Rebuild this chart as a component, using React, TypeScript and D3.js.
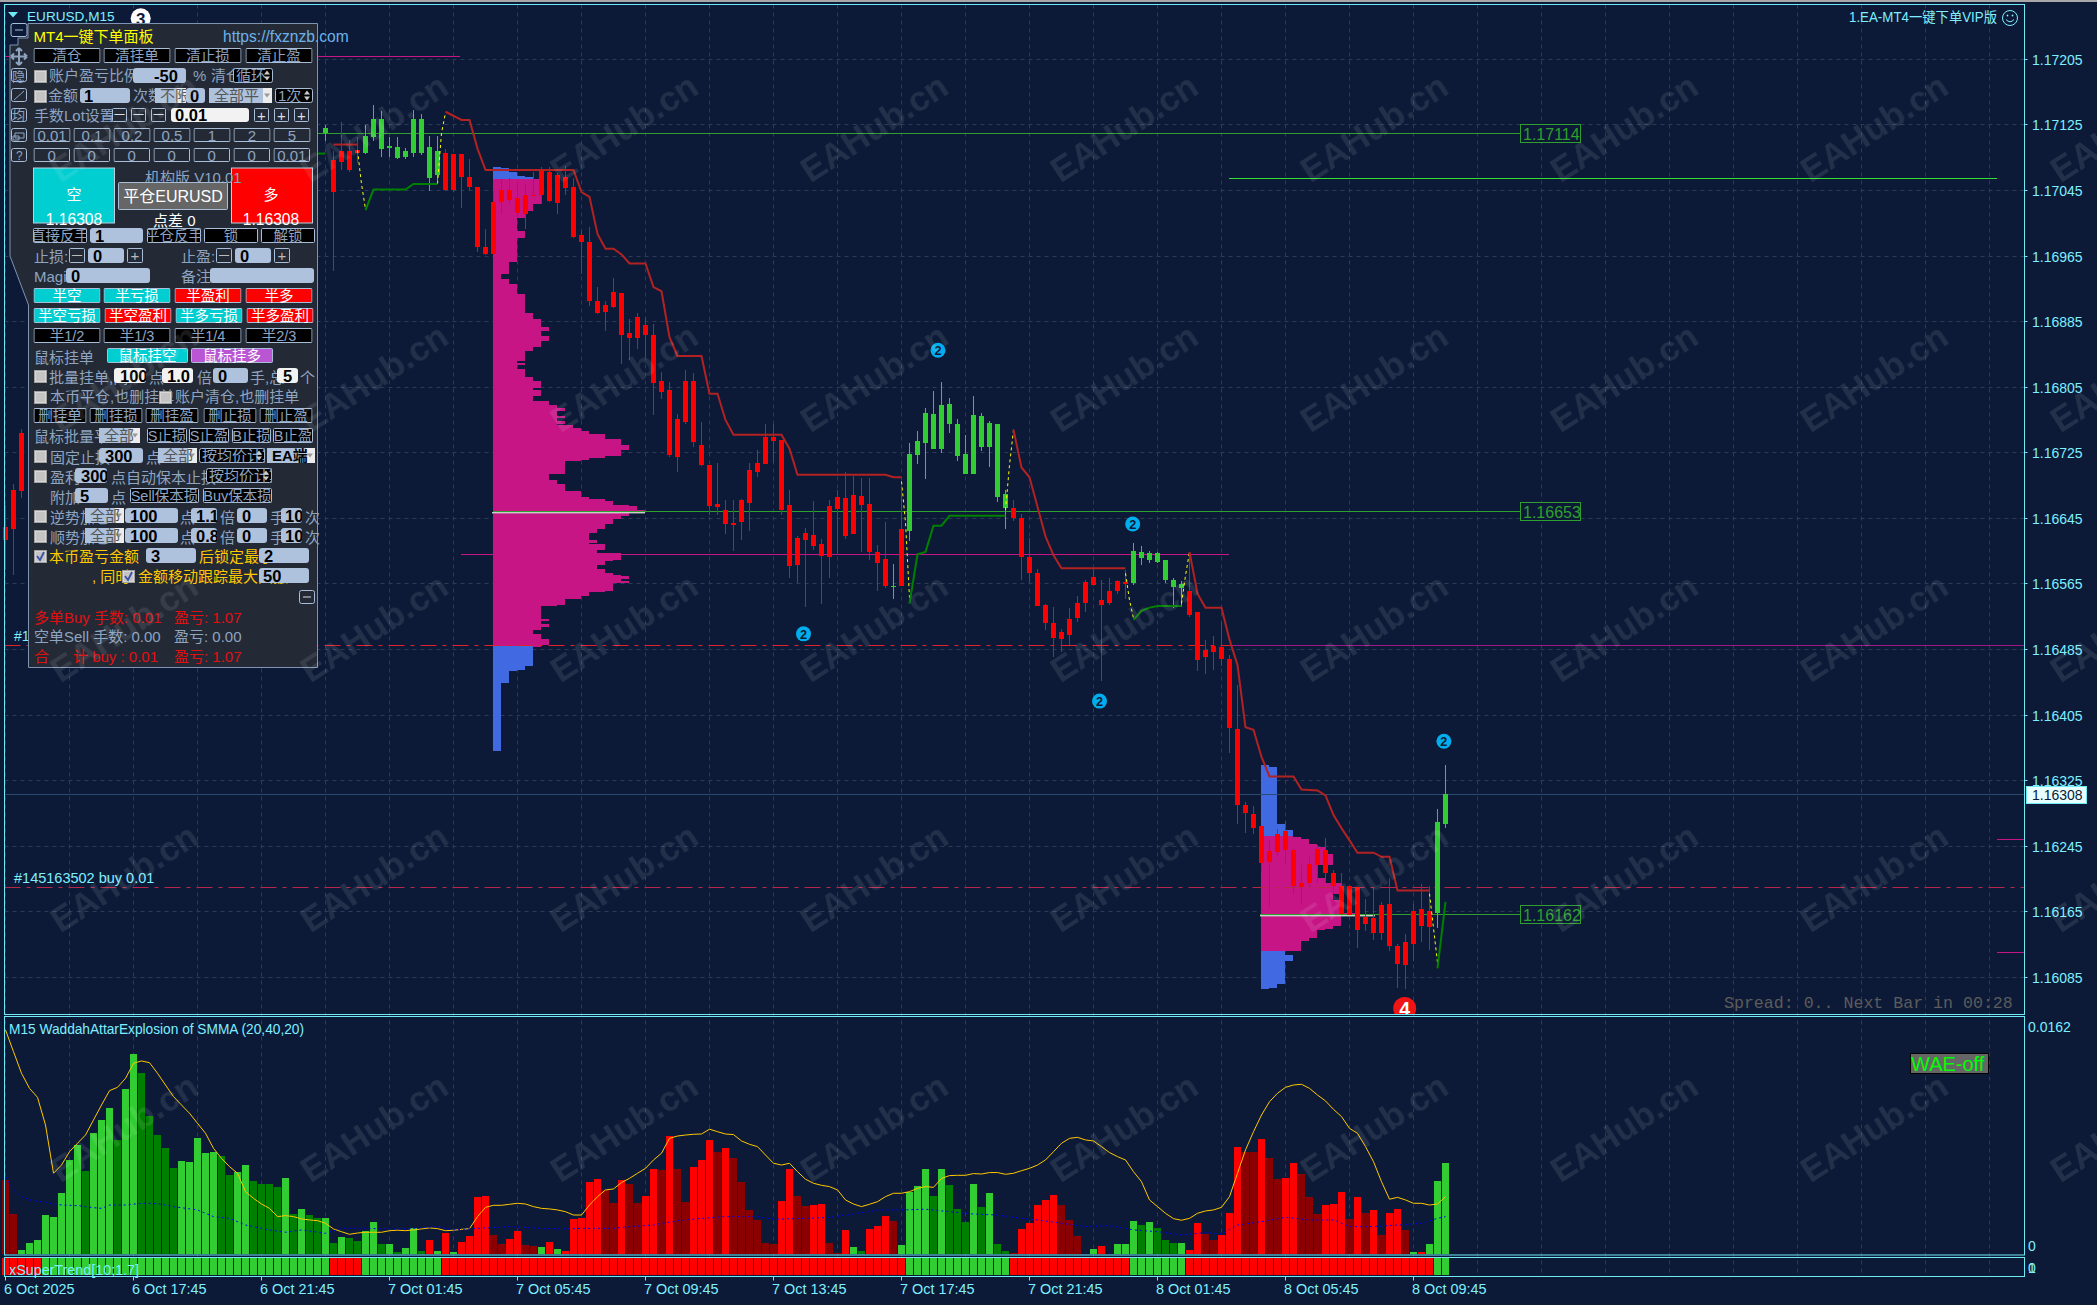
import React from "react";
import * as d3 from "d3";

// ---------- data (prices in points above 1.16000, 181 M15 bars) ----------
const hiddenBars: (number | null)[] = Array(37).fill(null); // bars 3..39 sit behind the trade panel
const opens: (number | null)[] = [634, 680, 749, ...hiddenBars,
  1115, 1082, 1093, 1093, 1094, 1091, 1110, 1096, 1097, 1085, 1086, 1091, 1091, 1060, 1064, 1091, 1090, 1090, 1062, 1049,
  976, 1031, 1045, 1046, 1036, 1040, 1040, 1069, 1067, 1064, 1062, 1049, 991, 982, 910, 905, 921, 920, 871, 890,
  881, 869, 812, 802, 766, 812, 812, 735, 710, 662, 655, 639, 667, 704, 713, 744, 744, 741, 661, 621,
  627, 625, 614, 660, 671, 670, 673, 672, 663, 604, 595, 562, 632, 630, 722, 737, 730, 730, 760, 721,
  699, 699, 732, 732, 671, 658, 658, 645, 598, 578, 539, 517, 506, 522, 542, 567, 573, 545, 556, 569,
  567, 566, 597, 594, 592, 570, 561, 560, 556, 531, 484, 489, 488, 473, 388, 295, 284, 270, 239, 260,
  263, 240, 200, 223, 241, 240, 212, 196, 196, 195, 159, 157, 173, 174, 123, 128, 166, 168, 166, 164, 272];
const closes: (number | null)[] = [619, 632, 678, ...hiddenBars,
  1121, 1043, 1080, 1070, 1091, 1112, 1132, 1132, 1099, 1098, 1093, 1132, 1132, 1098, 1093, 1046, 1045, 1062, 1049, 976,
  967, 967, 1031, 1033, 1018, 1016, 1039, 1039, 1032, 1030, 1048, 988, 982, 910, 896, 897, 903, 869, 865, 865,
  869, 810, 799, 722, 720, 763, 738, 710, 660, 659, 638, 638, 640, 664, 702, 711, 739, 655, 587, 588,
  619, 611, 599, 598, 656, 623, 626, 661, 604, 590, 563, 563, 562, 723, 739, 774, 772, 783, 785, 760,
  723, 771, 770, 761, 760, 675, 645, 598, 578, 538, 517, 499, 498, 503, 523, 542, 564, 539, 542, 556,
  566, 605, 604, 603, 603, 594, 570, 565, 527, 472, 476, 482, 473, 389, 295, 285, 267, 224, 226, 238,
  240, 197, 195, 200, 222, 212, 197, 162, 161, 143, 150, 139, 139, 123, 101, 100, 126, 148, 146, 274, 309];
const highs: (number | null)[] = [661, 687, 754, ...hiddenBars,
  1125, 1093, 1128, 1107, 1110, 1125, 1149, 1142, 1110, 1110, 1097, 1143, 1138, 1112, 1112, 1096, 1090, 1090, 1083, 1049,
  998, 1046, 1059, 1060, 1055, 1053, 1068, 1073, 1073, 1066, 1075, 1060, 996, 1001, 927, 910, 938, 920, 888, 896,
  891, 882, 823, 811, 772, 826, 822, 762, 710, 713, 667, 667, 669, 713, 728, 760, 760, 741, 680, 623,
  633, 666, 620, 667, 680, 702, 697, 694, 694, 612, 640, 589, 680, 737, 751, 780, 800, 811, 792, 766,
  747, 794, 773, 764, 760, 680, 667, 650, 621, 583, 541, 537, 510, 536, 550, 570, 583, 570, 572, 570,
  582, 615, 611, 605, 604, 594, 572, 568, 604, 531, 496, 501, 518, 478, 442, 299, 294, 270, 252, 266,
  276, 244, 222, 232, 246, 255, 216, 212, 196, 195, 181, 195, 177, 206, 126, 138, 174, 199, 196, 290, 344];
const lows: (number | null)[] = [582, 576, 670, ...hiddenBars,
  1105, 947, 1070, 1067, 1079, 1090, 1105, 1086, 1086, 1083, 1083, 1086, 1088, 1044, 1057, 1044, 1043, 1024, 1046, 970,
  966, 966, 1016, 1028, 1012, 998, 1039, 1029, 1031, 1016, 1040, 987, 943, 904, 894, 873, 902, 833, 838, 851,
  842, 771, 791, 720, 702, 760, 732, 709, 649, 649, 626, 605, 619, 630, 695, 711, 713, 649, 572, 566,
  537, 606, 540, 572, 600, 620, 626, 604, 594, 556, 560, 547, 562, 617, 711, 693, 729, 725, 749, 715,
  699, 699, 727, 707, 665, 632, 642, 570, 566, 538, 509, 476, 482, 490, 519, 531, 562, 446, 539, 553,
  546, 564, 588, 590, 590, 566, 536, 537, 525, 459, 455, 460, 465, 359, 272, 261, 260, 212, 171, 233,
  222, 187, 175, 195, 200, 200, 187, 161, 161, 121, 142, 130, 130, 117, 72, 71, 105, 128, 118, 145, 267];

// SuperTrend pieces: [bar, points]
const trendDown: [number, number][][] = [
  [[41, 1101], [44, 1101]],
  [[55, 1141], [57, 1131], [58, 1131], [59, 1096], [60, 1070], [71, 1070], [72, 1043], [73, 1037], [74, 992], [75, 974], [76, 974], [77, 967], [78, 956], [80, 956], [81, 927], [82, 922], [83, 866], [84, 843], [87, 843], [88, 797], [89, 797], [90, 765], [91, 747], [97, 747], [98, 730], [99, 698], [110, 698], [111, 695], [112, 695]],
  [[126, 753], [127, 707], [128, 695], [129, 659], [130, 623], [131, 600], [132, 584], [140, 584]],
  [[148, 604], [149, 553], [150, 536], [152, 536], [153, 497], [154, 466], [155, 390], [156, 387], [157, 354], [158, 330], [161, 330], [162, 314], [164, 313], [165, 307], [166, 283], [167, 267], [168, 252], [169, 237], [171, 237], [172, 232], [173, 232], [174, 191], [178, 191]],
];
const trendUp: [number, number][][] = [
  [[39, 1090], [40, 1090]],
  [[45, 1021], [46, 1046], [50, 1046], [51, 1053], [54, 1053]],
  [[113, 541], [114, 601], [115, 604], [116, 636], [117, 636], [118, 648], [125, 648]],
  [[141, 521], [142, 532], [143, 536], [144, 538], [147, 538]],
  [[179, 96], [180, 177]],
];
const trendFlips: [number, number][][] = [
  [[44, 1094], [44.5, 1053], [45, 1022]], [[54, 1053], [54.5, 1115], [55, 1140]],
  [[112, 690], [112.5, 640], [113, 548]], [[125, 655], [125.5, 710], [126, 753]],
  [[140, 578], [140.5, 545], [141, 523]], [[147, 541], [147.5, 575], [148, 604]],
  [[178, 187], [178.5, 145], [179, 103]],
];

// Horizontal levels, in points
const supportLevels = [1114, 653, 162];
const supportLabels = ["1.17114", "1.16653", "1.16162"];
const supportStart = [318, 493, 1260];
const longGreenLevel = 1059;
const magentaLevels = [601, 490];
const orderLevels = [490, 195];
const stubLevels = [253, 115];
const topMagentaLevel = 1208;
const currentPrice = 308;

// Volume profiles: band top (points) and count
const vp1Prices = [1074, 1072, 1068, 1063, 1061, 1059, 1029, 1021, 1012, 995, 987, 958, 943, 937, 931, 919, 895, 888, 879, 874, 867, 862, 855, 849, 838, 834, 832, 827, 818, 812, 805, 801, 795, 788, 783, 779, 776, 770, 768, 764, 761, 759, 755, 751, 748, 742, 735, 729, 721, 719, 717, 715, 699, 692, 687, 678, 671, 669, 666, 661, 660, 655, 652, 648, 645, 639, 632, 627, 618, 615, 614, 607, 603, 595, 593, 588, 583, 578, 576, 574, 571, 568, 566, 557, 555, 551, 547, 540, 539, 522, 520, 516, 513, 509, 504, 498, 491, 489, 465, 460, 459, 445, 362];
const vp1Counts = [1, 2, 3, 4, 5, 6, 5, 4, 3, 4, 3, 2, 1, 2, 3, 4, 5, 6, 7, 6, 7, 6, 5, 4, 3, 4, 3, 4, 5, 6, 5, 6, 5, 7, 8, 9, 8, 9, 8, 9, 8, 10, 11, 12, 14, 16, 17, 16, 14, 12, 11, 9, 7, 8, 9, 11, 12, 14, 15, 17, 18, 19, 17, 16, 15, 14, 13, 12, 13, 12, 14, 13, 16, 15, 14, 13, 14, 15, 16, 17, 16, 17, 15, 14, 12, 11, 9, 8, 6, 7, 6, 7, 6, 5, 6, 7, 6, 5, 4, 3, 2, 1, 0];
const vp1Value = [1059, 489];
const vp2Prices = [344, 342, 272, 265, 257, 256, 254, 248, 244, 236, 222, 206, 200, 187, 179, 164, 161, 148, 145, 143, 134, 130, 117, 112, 105, 77, 73, 71];
const vp2Counts = [1, 2, 3, 4, 4, 5, 6, 7, 8, 9, 7, 8, 10, 9, 10, 12, 10, 9, 8, 7, 6, 5, 3, 4, 3, 2, 1, 0];
const vp2Value = [257, 117];
const vpBarWidth = 8;

// WAE histogram (units of 0.00001) and trend colour key
const waeValues = [
  513, 278, 30, 80, 99, 271, 258, 423, 651, 754, 575, 840, 927, 1010, 789, 1141, 1382, 1251, 955, 823,
  734, 596, 644, 637, 803, 699, 706, 679, 547, 568, 616, 506, 485, 485, 465, 527, 278, 313, 271, 251,
  251, 78, 120, 113, 92, 161, 223, 71, 71, 16, 44, 182, 23, 99, 23, 147, 16, 85, 127, 396,
  403, 133, 71, 106, 161, 64, 58, 51, 85, 37, 23, 244, 251, 499, 520, 444, 354, 513, 485, 354,
  403, 589, 582, 817, 589, 361, 603, 651, 789, 706, 734, 665, 499, 306, 237, 78, 71, 368, 589, 403,
  334, 340, 347, 78, 7, 168, 51, 23, 175, 196, 265, 230, 64, 430, 472, 589, 403, 589, 478, 313,
  223, 485, 327, 423, 71, 23, 9, 175, 216, 340, 375, 409, 340, 237, 127, 5, 37, 58, 5, 71,
  71, 230, 202, 223, 182, 99, 78, 78, 30, 216, 140, 99, 133, 285, 741, 706, 706, 796, 665, 520,
  527, 630, 554, 396, 278, 340, 347, 430, 244, 396, 285, 306, 133, 285, 313, 168, 16, 16, 71, 506, 630];
const waeKinds = "DDGGGGGGGG" + "gGGGgGGggg" + "ggGGGGGggG" + "GggggGgGgg" + "GgGggGGgGg" + "GGgRGRGRRR" + "RDDRRDDGRG" + "RRRRRDDRDD" + "RRDRDDRRRD" + "RDDDDDDRRD" + "DRRDDRGgRR" + "RDGGGGgGgg" + "gGgGggDRRR" + "RRDDDDGRGG" + "GGgGgggGRR" + "DDRRRDDRDD" + "RRDDDRRRDR" + "DRDRRDGRGGG";
const waeExplosion = [
  1548, 1398, 1249, 1145, 1083, 892, 559, 616, 708, 766, 823, 927, 1030, 1129, 1152, 1214, 1318, 1334, 1322, 1249,
  1168, 1088, 1030, 973, 904, 835, 731, 662, 605, 559, 432, 386, 347, 317, 260, 267, 260, 244, 237, 232,
  214, 175, 156, 138, 147, 152, 152, 152, 163, 166, 163, 168, 175, 182, 177, 163, 166, 172, 177, 260,
  324, 338, 338, 345, 352, 347, 329, 317, 313, 306, 294, 271, 271, 340, 398, 444, 451, 495, 524, 559,
  593, 651, 697, 800, 816, 823, 828, 830, 863, 846, 830, 826, 782, 759, 743, 685, 628, 616, 628, 570,
  518, 490, 476, 467, 444, 375, 347, 329, 345, 363, 398, 421, 421, 432, 455, 467, 462, 524, 543, 545,
  545, 557, 554, 564, 564, 552, 559, 577, 593, 616, 651, 708, 766, 800, 807, 789, 782, 743, 702, 674,
  651, 570, 501, 375, 329, 283, 246, 235, 248, 283, 299, 306, 324, 398, 559, 720, 846, 961, 1053, 1111,
  1152, 1168, 1173, 1145, 1099, 1058, 1000, 950, 869, 835, 743, 639, 501, 380, 393, 375, 352, 352, 340, 347, 398];
const waeDeadZone: [number, number][] = [[0, 535], [1, 443], [2, 398], [3, 375], [5, 359], [7, 340], [9, 336], [11, 322], [12, 317], [13, 340], [15, 340], [17, 352], [19, 350], [21, 329], [24, 306], [26, 260], [28, 248], [30, 202], [33, 168], [35, 152], [37, 168], [40, 145], [42, 179], [45, 179], [48, 175], [50, 175], [54, 191], [56, 168], [59, 179], [63, 191], [67, 179], [70, 175], [72, 179], [76, 179], [78, 191], [81, 202], [84, 232], [87, 248], [90, 260], [94, 260], [96, 242], [100, 248], [103, 255], [106, 278], [109, 306], [112, 306], [115, 311], [118, 294], [121, 278], [124, 271], [127, 248], [129, 237], [132, 214], [135, 191], [138, 198], [141, 168], [144, 156], [147, 133], [150, 150], [152, 140], [154, 202], [157, 225], [160, 255], [163, 237], [166, 237], [168, 191], [171, 191], [174, 202], [177, 214], [179, 248], [180, 260]];

// xSuperTrend strip: [first bar, last bar, up?]
const stripRuns: [number, number, boolean][] = [[0, 4, false], [5, 40, true], [41, 44, false], [45, 54, true], [55, 112, false], [113, 125, true], [126, 140, false], [141, 147, true], [148, 178, false], [179, 180, true]];

const priceTicks = ["1.17205", "1.17125", "1.17045", "1.16965", "1.16885", "1.16805", "1.16725", "1.16645", "1.16565", "1.16485", "1.16405", "1.16325", "1.16245", "1.16165", "1.16085"];
const timeLabels = ["6 Oct 2025", "6 Oct 17:45", "6 Oct 21:45", "7 Oct 01:45", "7 Oct 05:45", "7 Oct 09:45", "7 Oct 13:45", "7 Oct 17:45", "7 Oct 21:45", "8 Oct 01:45", "8 Oct 05:45", "8 Oct 09:45"];
const signalBars = [
  { bar: 116.56, pts: 850, r: 7.5, fill: "#00aeef", color: "#0c1a37", t: "2" },
  { bar: 99.75, pts: 504, r: 7.5, fill: "#00aeef", color: "#0c1a37", t: "2" },
  { bar: 136.75, pts: 422, r: 7.5, fill: "#00aeef", color: "#0c1a37", t: "2" },
  { bar: 140.9, pts: 638, r: 7.5, fill: "#00aeef", color: "#0c1a37", t: "2" },
  { bar: 179.8, pts: 373, r: 7.5, fill: "#00aeef", color: "#0c1a37", t: "2" },
  { bar: 16.9, pts: 1255, r: 10, fill: "#ffffff", color: "#0c1a37", t: "3" },
  { bar: 174.9, pts: 47, r: 11.5, fill: "#f01414", color: "#ffffff", t: "4" },
];

// ---------- scales ----------
const W = 2097, H = 1305;
const FRAME_L = 4.5, FRAME_R = 2024.5, PANE_T = 4.5, PANE_B = 1014.5, WAE_T = 1016.5, WAE_B = 1254.5, STRIP_T = 1257.5, STRIP_B = 1276.5;
const BG = "#0c1a37", CYAN = "#6fe9f5", LABEL = "#7feeff", GRID = "#2b3c59";
const x = d3.scaleLinear().domain([0, 180]).range([5.5, 1445.5]);
const y = d3.scaleLinear().domain([1205, 85]).range([59.3, 977.3]);
const yWae = d3.scaleLinear().domain([0, 1620]).range([1254.3, 1019.5]);
const SANS = "'Liberation Sans', Arial, sans-serif";
const CJK = "'Liberation Sans', 'Noto Sans CJK SC', sans-serif";
const snap = (v: number) => Math.floor(v) + 0.5;

const xLine = d3.line<[number, number]>().x((d) => x(d[0])).y((d) => y(d[1]));
const wLine = d3.line<[number, number]>().x((d) => x(d[0])).y((d) => yWae(d[1]));

// ---------- chart parts ----------
function Grid() {
  const xs = d3.range(0, 32).map((k) => x(k * 8));
  return (
    <g stroke={GRID} strokeWidth={1} strokeDasharray="4,4" fill="none">
      {xs.map((v, k) => <line key={k} x1={v} x2={v} y1={PANE_T} y2={STRIP_B} />)}
      {priceTicks.map((t) => {
        const yy = snap(y(+t.slice(2) - 16000));
        return <line key={t} x1={FRAME_L} x2={FRAME_R} y1={yy} y2={yy} />;
      })}
    </g>
  );
}

function Profile({ prices, counts, value, id }: { prices: number[]; counts: number[]; value: number[]; id: string }) {
  const left = id === "a" ? 493 : 1261;
  return (
    <g shapeRendering="crispEdges">
      {prices.slice(0, -1).map((p, k) => (
        <rect key={k} x={left} y={y(p)} width={counts[k] * vpBarWidth} height={y(prices[k + 1]) - y(p) + 0.4}
          fill={p <= value[0] && p > value[1] ? "#c71585" : "#4169e1"} />
      ))}
    </g>
  );
}

function HLine({ a, b, v, c, d, w = 1 }: { a: number; b: number; v: number; c: string; d?: string; w?: number }) {
  const yy = snap(y(v));
  return <line x1={a} x2={b} y1={yy} y2={yy} stroke={c} strokeDasharray={d} strokeWidth={w} />;
}

function Levels() {
  const greenDim = "#2f9f2f";
  return (
    <g>
      <HLine a={FRAME_L} b={460} v={topMagentaLevel} c="#c71585" />
      <HLine a={461} b={1229} v={magentaLevels[0]} c="#c71585" />
      <HLine a={1231} b={FRAME_R} v={magentaLevels[1]} c="#a0178a" />
      <HLine a={FRAME_L} b={1231} v={orderLevels[0]} c="#e0202a" d="16,6,4,6" />
      <HLine a={FRAME_L} b={FRAME_R} v={orderLevels[1]} c="#b8264a" d="16,6,4,6" />
      <HLine a={FRAME_L} b={FRAME_R} v={currentPrice} c="#2c4a70" />
      {stubLevels.map((l) => <HLine key={l} a={1997} b={FRAME_R} v={l} c="#c71585" />)}
      <rect x={492} y={snap(y(653)) + 0.5} width={153} height={1.4} fill="#c9d2c9" />
      <rect x={1260} y={snap(y(162)) + 0.5} width={115} height={1.4} fill="#c9d2c9" />
      <HLine a={1229} b={1997} v={longGreenLevel} c="#32e032" />
      {supportLevels.map((l, k) => {
        const yy = snap(y(l));
        return (
          <g key={l}>
            <line x1={supportStart[k]} x2={1520} y1={yy} y2={yy} stroke={greenDim} />
            <rect x={1520.5} y={yy - 9} width={60} height={18} fill={BG} stroke={greenDim} />
            <text x={1523} y={yy + 6} fontFamily={SANS} fontSize={16} fill={greenDim}>{supportLabels[k]}</text>
          </g>
        );
      })}
    </g>
  );
}

function Candles() {
  return (
    <g shapeRendering="crispEdges">
      {opens.map((o, i) => {
        const c = closes[i];
        if (o === null || c === null) return null;
        const color = c >= o ? "#32cd32" : "#ff0000";
        const cx = x(i);
        const top = y(Math.max(o, c));
        const bottom = y(Math.min(o, c));
        return (
          <g key={i} fill={color}>
            <rect x={cx - 0.5} width={1} y={y(highs[i]!)} height={y(lows[i]!) - y(highs[i]!)} />
            <rect x={cx - 2.5} width={5} y={top} height={Math.max(1.4, bottom - top)} />
          </g>
        );
      })}
    </g>
  );
}

function Trends() {
  return (
    <g fill="none">
      {trendFlips.map((s, k) => <path key={k} d={xLine(s)!} stroke="#ffff00" strokeWidth={1} strokeDasharray="3,3" />)}
      {trendDown.map((s, k) => <path key={k} d={xLine(s)!} stroke="#b22222" strokeWidth={2} />)}
      {trendUp.map((s, k) => <path key={k} d={xLine(s)!} stroke="#008000" strokeWidth={2} />)}
    </g>
  );
}

function Signals() {
  return (
    <g clipPath="url(#paneClip)">
      {signalBars.map((s, k) => (
        <g key={k}>
          <circle cx={x(s.bar)} cy={y(s.pts)} r={s.r} fill={s.fill} />
          <text x={x(s.bar)} y={y(s.pts) + s.r * 0.62} textAnchor="middle" fontFamily={SANS} fontWeight="bold" fontSize={s.r * 1.7} fill={s.color}>{s.t}</text>
        </g>
      ))}
    </g>
  );
}

const waeColor: Record<string, string> = { R: "#ff0000", D: "#8b0000", G: "#32cd32", g: "#008000" };

function WaePane() {
  const explosion = waeExplosion.map((v, i) => [i, v] as [number, number]);
  return (
    <g>
      <g shapeRendering="crispEdges">
        {waeValues.map((v, i) => (
          <rect key={i} x={x(i) - 3.5} width={7} y={yWae(v)} height={yWae(0) - yWae(v)} fill={waeColor[waeKinds[i]]} />
        ))}
      </g>
      <path d={wLine(explosion)!} fill="none" stroke="#ffc800" strokeWidth={1} />
      <path d={wLine(waeDeadZone)!} fill="none" stroke="#0000ff" strokeWidth={1} strokeDasharray="2,3" />
      <rect x={1910.5} y={1053.5} width={78} height={20} fill="#666" stroke="#000" />
      <text x={1911} y={1071} fontFamily={SANS} fontSize={20} fill="#00ff00">WAE-off</text>
    </g>
  );
}

function Strip() {
  return (
    <g shapeRendering="crispEdges">
      {stripRuns.flatMap(([a, b, up]) => d3.range(a, b + 1).map((i) => (
        <rect key={i} x={x(i) - 3.5} width={7.4} y={1257.7} height={17.6} fill={up ? "#32cd32" : "#ff0000"} />
      )))}
    </g>
  );
}

function Axes() {
  const xTicks = timeLabels.map((_, k) => k * 16);
  return (
    <g>
      {/* frames */}
      <g fill="none" stroke={CYAN}>
        <rect x={FRAME_L} y={PANE_T} width={FRAME_R - FRAME_L} height={PANE_B - PANE_T} />
        <rect x={FRAME_L} y={WAE_T} width={FRAME_R - FRAME_L} height={WAE_B - WAE_T + 0.5} />
        <rect x={FRAME_L} y={STRIP_T} width={FRAME_R - FRAME_L} height={STRIP_B - STRIP_T} />
      </g>
      {priceTicks.map((t) => {
        const yy = y(+t.slice(2) - 16000);
        return (
          <g key={t}>
            <line x1={FRAME_R} x2={FRAME_R + 3} y1={snap(yy)} y2={snap(yy)} stroke={CYAN} />
            <text x={2032} y={yy + 5.5} fontFamily={SANS} fontSize={14} fill={LABEL}>{t}</text>
          </g>
        );
      })}
      <text x={2028} y={1032} fontFamily={SANS} fontSize={14} fill={LABEL}>0.0162</text>
      <text x={2028} y={1251} fontFamily={SANS} fontSize={14} fill={LABEL}>0</text>
      <text x={2028} y={1273} fontFamily={SANS} fontSize={14} fill={LABEL}>0</text>
      <text x={2028} y={1273} fontFamily={SANS} fontSize={14} fill={LABEL}>1</text>
      {xTicks.map((b, k) => (
        <g key={b}>
          <line x1={x(b)} x2={x(b)} y1={STRIP_B} y2={STRIP_B + 4} stroke={CYAN} />
          <text x={x(b) - 1.5} y={1294} fontFamily={SANS} fontSize={14.4} fill={LABEL}>{timeLabels[k]}</text>
        </g>
      ))}
      {/* current price tag */}
      <rect x={2026.5} y={snap(y(currentPrice)) - 8} width={60} height={17} fill="#e8ffff" stroke={CYAN} />
      <text x={2032} y={y(currentPrice) + 5} fontFamily={SANS} fontSize={14} fill="#0c1a37">1.16308</text>
      {/* captions */}
      <path d="M8,12 L18,12 L13,17.5 Z" fill={CYAN} />
      <text x={27} y={21} fontFamily={SANS} fontSize={13.6} fill={LABEL}>EURUSD,M15</text>
      <text x={1849} y={22} fontFamily={CJK} fontSize={14} fill={LABEL} textLength={148} lengthAdjust="spacingAndGlyphs">1.EA-MT4一键下单VIP版</text>
      <g fill="none" stroke={LABEL}>
        <circle cx={2010} cy={18} r={7.5} />
        <path d="M2006,19.5 Q2010,24 2014,19.5" />
      </g>
      <circle cx={2007.5} cy={15.5} r={0.9} fill={LABEL} />
      <circle cx={2012.5} cy={15.5} r={0.9} fill={LABEL} />
      <text x={14} y={641} fontFamily={SANS} fontSize={14} fill={LABEL}>#1</text>
      <text x={14} y={883} fontFamily={SANS} fontSize={14.5} fill={LABEL}>#145163502 buy 0.01</text>
      <text x={9} y={1034} fontFamily={SANS} fontSize={14.5} fill={LABEL} textLength={295} lengthAdjust="spacingAndGlyphs">M15 WaddahAttarExplosion of SMMA (20,40,20)</text>
      <text x={9} y={1275} fontFamily={SANS} fontSize={14.5} fill={LABEL} textLength={130} lengthAdjust="spacingAndGlyphs">xSuperTrend[10;1.7]</text>
      <text x={1724} y={1008} fontFamily="'Liberation Mono', monospace" fontSize={16.6} fill="#5c5c5c">Spread: 0.. Next Bar in 00:28</text>
    </g>
  );
}

function Watermarks() {
  const cx = d3.range(0, 9).map((k) => 124 + 250 * k);
  const cy = d3.range(0, 5).map((k) => 128 + 250 * k);
  return (
    <g fontFamily={SANS} fontWeight="bold" fontSize={35} textAnchor="middle" fill="#ffffff" opacity={0.1}>
      {cy.flatMap((b) => cx.map((a) => (
        <text key={a + "-" + b} transform={`translate(${a},${b}) rotate(-33)`} y={12}>EAHub.cn</text>
      )))}
    </g>
  );
}

// ---------- trade panel ----------
const P_TEXT = "#8fa4c0", P_BORDER = "#a8bdd8", P_BLUE = "#aec2de", TURQ = "#00ced1", P_YEL = "#ffc800";

function Lbl({ x: a, y: b, t, c = P_TEXT, s = 15, w }: { x: number; y: number; t: string; c?: string; s?: number; w?: number }) {
  return <text x={a} y={b} fontFamily={CJK} fontSize={s} fill={c} fontWeight={w}>{t}</text>;
}
function Btn({ a, b, e, f = 15, t, fill = "#000", c = P_TEXT, s = 14.5, stroke = P_BORDER }: { a: number; b: number; e: number; f?: number; t: string; fill?: string; c?: string; s?: number; stroke?: string }) {
  const w = e - a;
  return (
    <svg x={a} y={b} width={w} height={f}>
      <rect x={0.5} y={0.5} width={w - 1} height={f - 1} rx={1} fill={fill} stroke={stroke} />
      <text x={w / 2} y={f / 2 + s * 0.37} textAnchor="middle" fontFamily={CJK} fontSize={s} fill={c}>{t}</text>
    </svg>
  );
}
function Inp({ a, b, e, f = 15, t = "", fill = P_BLUE, tx = 4 }: { a: number; b: number; e: number; f?: number; t?: string; fill?: string; tx?: number }) {
  const w = e - a;
  return (
    <svg x={a} y={b} width={w} height={f}>
      <rect x={0} y={0} width={w} height={f} rx={3} fill={fill} />
      <text x={tx} y={f - 1.5} fontFamily={SANS} fontWeight="bold" fontSize={16.5} fill="#000">{t}</text>
    </svg>
  );
}
function Drop({ a, b, e, t, f = 15 }: { a: number; b: number; e: number; t: string; f?: number }) {
  const w = e - a;
  return (
    <svg x={a} y={b} width={w} height={f}>
      <rect x={0} y={0} width={w} height={f} fill={P_BLUE} />
      <rect x={w - 9} y={0} width={9} height={f} fill="#ececec" />
      <path d={`M${w - 8},${f / 2 - 2} h6 l-3,4 z`} fill="#999" />
      <text x={5} y={f - 2} fontFamily={CJK} fontSize={15} fill="#555">{t}</text>
    </svg>
  );
}
function Spin({ a, b, e, t, f = 15 }: { a: number; b: number; e: number; t: string; f?: number }) {
  const w = e - a;
  return (
    <svg x={a} y={b} width={w} height={f}>
      <rect x={0.5} y={0.5} width={w - 1} height={f - 1} rx={2} fill="#000" stroke={P_BORDER} />
      <text x={3} y={f - 2} fontFamily={CJK} fontSize={15} fill={P_TEXT}>{t}</text>
      <path d={`M${w - 9},${f / 2 - 1} h6 l-3,-4 z M${w - 9},${f / 2 + 1} h6 l-3,4 z`} fill="#ccc" />
    </svg>
  );
}
function Chk({ a, b, on }: { a: number; b: number; on?: boolean }) {
  return (
    <g>
      <rect x={a + 0.5} y={b + 0.5} width={12} height={12} fill="#d8d8d8" stroke="#a0a0a0" />
      <rect x={a + 2} y={b + 2} width={9} height={9} fill="#c4c4c4" />
      {on && <path d={`M${a + 3},${b + 6} l3,4 l4,-8`} fill="none" stroke="#3a52a8" strokeWidth={1.8} />}
    </g>
  );
}

const rowA: [number, number][] = [[33.5, 100.5], [103.5, 170.5], [174.5, 241.5], [245.5, 312.5]];

function Panel() {
  const lots = ["0.01", "0.1", "0.2", "0.5", "1", "2", "5"];
  const zeros = ["0", "0", "0", "0", "0", "0", "0.01"];
  return (
    <g>
      <rect x={11} y={23.5} width={16} height={13} fill="none" stroke={P_BORDER} rx={2} />
      <line x1={15} x2={23} y1={30} y2={30} stroke={P_BORDER} />
      <path d="M28,23.5 H317.5 V667.5 H28.5 V305 L10,256 V45 H18 V38 H28 Z" fill="#232a36" stroke="#7f93b2" />
      {/* left tool column */}
      <g fill="none" stroke={P_TEXT}>
        <path d="M19,48 V65 M11,56.5 H27 M19,48 l-3,3 M19,48 l3,3 M19,65 l-3,-3 M19,65 l3,-3 M11,56.5 l3,-3 M11,56.5 l3,3 M27,56.5 l-3,-3 M27,56.5 l-3,3" strokeWidth={2} />
        {[69, 89, 109, 129, 149].map((v) => <rect key={v} x={11.5} y={v - 0.5} width={15} height={13} rx={2} stroke={P_BORDER} />)}
        <path d="M14,100 L24,91" />
        <path d="M15,138 V133 H24 V138 H15 M13,136 H19 V140 H13 Z" />
      </g>
      <Lbl x={12} y={81} t="隐" s={13} />
      <Lbl x={12} y={120} t="均" s={13} />
      <Lbl x={16} y={160} t="?" s={12} />

      {/* title */}
      <text x={33.5} y={42} fontFamily={CJK} fontSize={15} fill="#ffff00">MT4一键下单面板</text>
      <text x={223} y={42} fontFamily={SANS} fontSize={15.6} fill="#6cb2ea">https://fxznzb.com</text>

      {["清仓", "清挂单", "清止损", "清止盈"].map((t, k) => <Btn key={t} a={rowA[k][0]} e={rowA[k][1]} b={48} t={t} />)}

      <Chk a={34} b={70} />
      <Lbl x={49} y={81} t="账户盈亏比例" />
      <Inp a={133} b={68} e={186} t="-50" tx={21} />
      <Lbl x={193} y={81} t="%" c={P_TEXT} />
      <Lbl x={211} y={81} t="清仓" />
      <Spin a={233} b={68} e={273} t="循环" />

      <Chk a={34} b={90} />
      <Lbl x={48} y={101} t="金额" />
      <Inp a={80} b={88} e={130} t="1" />
      <Lbl x={133} y={101} t="次数" />
      <Drop a={155} b={88} e={186} t="不限" />
      <Inp a={186} b={88} e={205} t="0" />
      <Drop a={209} b={88} e={272} t="全部平" />
      <Spin a={275} b={88} e={313} t="1次" />

      <Lbl x={34} y={121} t="手数Lot设置" />
      {[112, 131, 151].map((v) => <Btn key={v} a={v} e={v + 15} b={108} f={14} t="一" c="#ddd" s={11} fill="#232a36" />)}
      <Inp a={171} b={108} e={249} f={14} fill="#f2f2f2" t="0.01" />
      {[254, 274, 294].map((v) => <Btn key={v} a={v} e={v + 15} b={108} f={14} t="+" c="#ddd" s={15} fill="#232a36" />)}

      {lots.map((t, k) => <Btn key={k} a={33.5 + 40 * k} e={70.5 + 40 * k} b={128} f={14} t={t} fill="#232a36" s={15} />)}
      {zeros.map((t, k) => <Btn key={k} a={33.5 + 40 * k} e={70 + 40 * k} b={148} f={14} t={t} fill="#232a36" s={15} />)}

      <rect x={33.5} y={168} width={81} height={55} fill={TURQ} stroke="#b8d0e0" />
      <rect x={231.5} y={168} width={81} height={55} fill="#ff0000" stroke="#b8d0e0" />
      <Lbl x={145} y={183} t="机构版 V10.01" />
      <text x={74} y={200} textAnchor="middle" fontFamily={CJK} fontSize={15} fill="#fff">空</text>
      <text x={271} y={200} textAnchor="middle" fontFamily={CJK} fontSize={15} fill="#fff">多</text>
      <text x={74} y={225} textAnchor="middle" fontFamily={SANS} fontSize={15.6} fill="#fff">1.16308</text>
      <text x={271} y={225} textAnchor="middle" fontFamily={SANS} fontSize={15.6} fill="#fff">1.16308</text>
      <rect x={118.5} y={182.5} width={109} height={27} rx={1} fill="#666" stroke={P_BORDER} />
      <text x={173} y={202} textAnchor="middle" fontFamily={CJK} fontSize={16} fill="#fff">平仓EURUSD</text>
      <text x={153} y={226} fontFamily={CJK} fontSize={15} fill="#fff">点差 0</text>

      <Btn a={33} e={87} b={228} t="直接反手" />
      <Inp a={90} b={228} e={143} t="1" tx={5} />
      <Btn a={147} e={201} b={228} t="平仓反手" />
      <Btn a={204} e={258} b={228} t="锁" />
      <Btn a={261} e={315} b={228} t="解锁" />

      <Lbl x={34} y={262} t="止损:" />
      <Btn a={69} e={85} b={248} t="一" c="#bbb" s={11} fill="#232a36" />
      <Inp a={88} b={248} e={124} t="0" tx={5} />
      <Btn a={127} e={143} b={248} t="+" c="#bbb" s={15} fill="#232a36" />
      <Lbl x={181} y={262} t="止盈:" />
      <Btn a={216} e={232} b={248} t="一" c="#bbb" s={11} fill="#232a36" />
      <Inp a={235} b={248} e={271} t="0" tx={5} />
      <Btn a={274} e={290} b={248} t="+" c="#bbb" s={15} fill="#232a36" />

      <Lbl x={34} y={282} t="Magic" />
      <Inp a={66} b={268} e={150} t="0" tx={5} />
      <Lbl x={181} y={282} t="备注" />
      <Inp a={210} b={268} e={314} />

      {[["半空", TURQ], ["半亏损", TURQ], ["半盈利", "#ff0000"], ["半多", "#ff0000"]].map(([t, c], k) => (
        <Btn key={t} a={rowA[k][0]} e={rowA[k][1]} b={288} t={t} fill={c} c="#fff" />
      ))}
      {[["半空亏损", TURQ], ["半空盈利", "#ff0000"], ["半多亏损", TURQ], ["半多盈利", "#ff0000"]].map(([t, c], k) => (
        <Btn key={t} a={rowA[k][0] + (k ? 1 : 0)} e={rowA[k][1] + (k ? 1 : 0)} b={308} t={t} fill={c} c="#fff" />
      ))}
      {["半1/2", "半1/3", "半1/4", "半2/3"].map((t, k) => <Btn key={t} a={rowA[k][0]} e={rowA[k][1]} b={328} t={t} />)}

      <Lbl x={34} y={363} t="鼠标挂单" />
      <Btn a={107} e={188} b={348} t="鼠标挂空" fill={TURQ} c="#fff" />
      <Btn a={191} e={273} b={348} t="鼠标挂多" fill="#ba55d3" c="#fff" />

      <Chk a={34} b={370} />
      <Lbl x={49} y={383} t="批量挂单,间" />
      <Inp a={114} b={368} e={146} t="100" fill="#f2f2f2" tx={6} />
      <Lbl x={149} y={383} t="点" />
      <Inp a={162} b={368} e={193} t="1.0" fill="#f2f2f2" tx={5} />
      <Lbl x={197} y={383} t="倍" />
      <Inp a={213} b={368} e={248} t="0" tx={5} />
      <Lbl x={250} y={383} t="手,总" />
      <Inp a={277} b={368} e={298} t="5" fill="#f2f2f2" tx={6} />
      <Lbl x={300} y={383} t="个" />

      <Chk a={34} b={391} />
      <Lbl x={50} y={402} t="本币平仓,也删挂单" />
      <Chk a={159} b={391} />
      <Lbl x={175} y={402} t="账户清仓,也删挂单" />

      {[[33.5, 86.5, "删挂单"], [89.5, 142.5, "删挂损"], [145.5, 198.5, "删挂盈"], [203.5, 256.5, "删止损"], [259.5, 312.5, "删止盈"]].map(([a, e, t]) => (
        <Btn key={t as string} a={a as number} e={e as number} b={408} t={t as string} />
      ))}

      <Lbl x={34} y={442} t="鼠标批量平" />
      <Drop a={99} b={428} e={140} t="全部" />
      {[[147, 187, "S止损"], [189, 229, "S止盈"], [232, 271, "B止损"], [273, 313, "B止盈"]].map(([a, e, t]) => (
        <Btn key={t as string} a={a as number} e={e as number} b={428} t={t as string} />
      ))}

      <Chk a={34} b={450} />
      <Lbl x={50} y={463} t="固定止损" />
      <Inp a={99} b={448} e={143} t="300" tx={6} />
      <Lbl x={146} y={463} t="点" />
      <Drop a={158} b={448} e={197} t="全部" />
      <Spin a={199} b={448} e={265} t="按均价计算" />
      <Drop a={267} b={448} e={315} t="" />
      <text x={272} y={461} fontFamily={CJK} fontWeight="bold" fontSize={15} fill="#000">EA端</text>

      <Chk a={34} b={470} />
      <Lbl x={50} y={483} t="盈利" />
      <Inp a={75} b={468} e={107} t="300" tx={6} />
      <Lbl x={111} y={483} t="点自动保本止损" />
      <Spin a={206} b={468} e={272} t="按均价计算" />

      <Lbl x={50} y={503} t="附加" />
      <Inp a={75} b={488} e={108} t="5" tx={5} />
      <Lbl x={111} y={503} t="点" />
      <Btn a={130} e={199} b={488} t="Sell保本损" />
      <Btn a={203} e={272} b={488} t="Buy保本损" />

      {[["逆势加仓", "1.1", 508], ["顺势加仓", "0.8", 528]].map(([t, m, b]) => {
        const v = b as number;
        return (
          <g key={t as string}>
            <Chk a={34} b={v + 2} />
            <Lbl x={50} y={v + 15} t={t as string} />
            <Drop a={85} b={v} e={124} t="全部" />
            <Inp a={125} b={v} e={178} t="100" tx={5} />
            <Lbl x={180} y={v + 15} t="点" />
            <Inp a={191} b={v} e={217} t={m as string} tx={5} />
            <Lbl x={220} y={v + 15} t="倍" />
            <Inp a={237} b={v} e={267} t="0" tx={5} />
            <Lbl x={270} y={v + 15} t="手" />
            <Inp a={281} b={v} e={302} t="10" tx={4} />
            <Lbl x={305} y={v + 15} t="次" />
          </g>
        );
      })}

      <Chk a={34} b={550} on />
      <Lbl x={49} y={562} t="本币盈亏金额" c={P_YEL} />
      <Inp a={146} b={548} e={196} t="3" tx={5} />
      <Lbl x={199} y={562} t="后锁定最小" c={P_YEL} />
      <Inp a={259} b={548} e={309} t="2" tx={5} />

      <Lbl x={92} y={582} t=", 同时" c={P_YEL} />
      <Chk a={122} b={570} on />
      <Lbl x={138} y={582} t="金额移动跟踪最大回撤" c={P_YEL} />
      <Inp a={259} b={568} e={309} t="50" tx={4} />

      <rect x={299.5} y={590.5} width={15} height={13} rx={2} fill="#232a36" stroke={P_BORDER} />
      <line x1={303} x2={311} y1={597} y2={597} stroke="#ddd" />

      <Lbl x={34} y={623} t="多单Buy 手数: 0.01" c="#e01010" />
      <Lbl x={174} y={623} t="盈亏: 1.07" c="#e01010" />
      <Lbl x={34} y={642} t="空单Sell 手数: 0.00" c={P_TEXT} />
      <Lbl x={174} y={642} t="盈亏: 0.00" c={P_TEXT} />
      <Lbl x={34} y={662} t="合" c="#e01010" />
      <Lbl x={73} y={662} t="计 buy : 0.01" c="#e01010" />
      <Lbl x={174} y={662} t="盈亏: 1.07" c="#e01010" />
    </g>
  );
}

export default function App() {
  return (
    <svg width={W} height={H} viewBox={`0 0 ${W} ${H}`} style={{ position: "absolute", left: 0, top: 0, display: "block" }}>
      <defs>
        <clipPath id="paneClip"><rect x={0} y={0} width={W} height={1014} /></clipPath>
      </defs>
      <rect width={W} height={H} fill={BG} />
      <rect width={W} height={2} fill="#a8a8a8" />
      <Grid />
      <Profile prices={vp1Prices} counts={vp1Counts} value={vp1Value} id="a" />
      <Profile prices={vp2Prices} counts={vp2Counts} value={vp2Value} id="b" />
      <Levels />
      <Candles />
      <Trends />
      <Signals />
      <WaePane />
      <Strip />
      <Axes />
      <Panel />
      <Watermarks />
    </svg>
  );
}
